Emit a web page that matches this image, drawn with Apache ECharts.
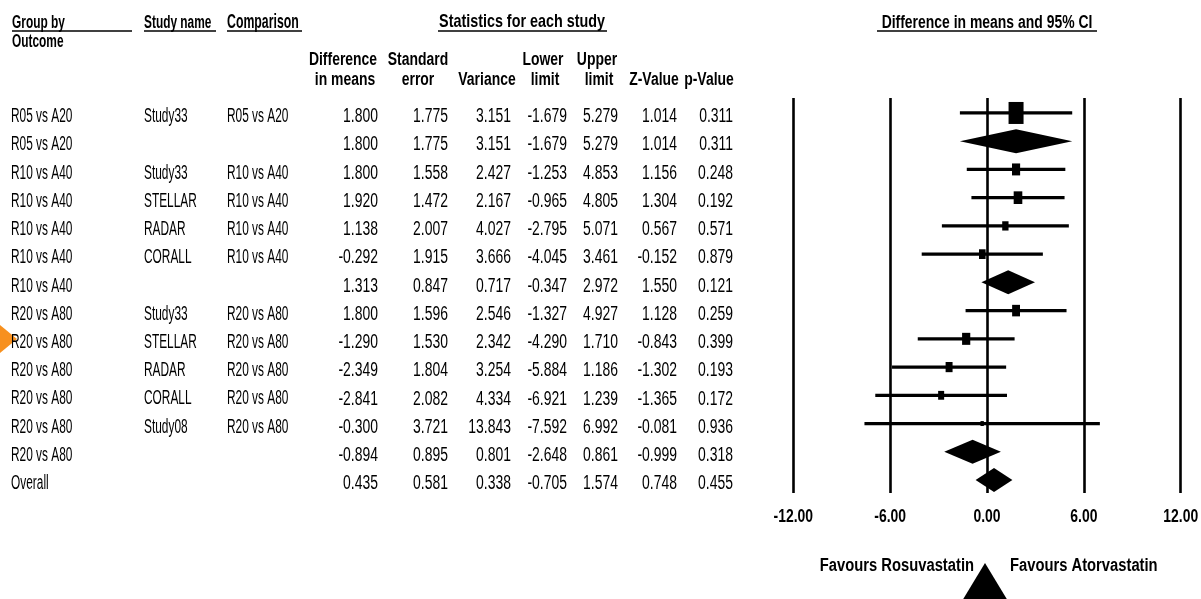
<!DOCTYPE html>
<html>
<head>
<meta charset="utf-8">
<script src="https://cdn.jsdelivr.net/npm/echarts@6/dist/echarts.min.js"></script>
<style>
html,body{margin:0;padding:0;background:#fff;}
#chart{width:1201px;height:599px;}
</style>
</head>
<body>
<div id="chart"></div>
<script>
// ---------------- DATA ----------------
const groupLabels = ['R05 vs A20','R05 vs A20','R10 vs A40','R10 vs A40','R10 vs A40','R10 vs A40','R10 vs A40','R20 vs A80','R20 vs A80','R20 vs A80','R20 vs A80','R20 vs A80','R20 vs A80','Overall'];
const studyNames = ['Study33','','Study33','STELLAR','RADAR','CORALL','','Study33','STELLAR','RADAR','CORALL','Study08','',''];
const comparisons = ['R05 vs A20','','R10 vs A40','R10 vs A40','R10 vs A40','R10 vs A40','','R20 vs A80','R20 vs A80','R20 vs A80','R20 vs A80','R20 vs A80','',''];
const diffMeans = [1.800,1.800,1.800,1.920,1.138,-0.292,1.313,1.800,-1.290,-2.349,-2.841,-0.300,-0.894,0.435];
const stdErrors = [1.775,1.775,1.558,1.472,2.007,1.915,0.847,1.596,1.530,1.804,2.082,3.721,0.895,0.581];
const variances = [3.151,3.151,2.427,2.167,4.027,3.666,0.717,2.546,2.342,3.254,4.334,13.843,0.801,0.338];
const lowerLimits = [-1.679,-1.679,-1.253,-0.965,-2.795,-4.045,-0.347,-1.327,-4.290,-5.884,-6.921,-7.592,-2.648,-0.705];
const upperLimits = [5.279,5.279,4.853,4.805,5.071,3.461,2.972,4.927,1.710,1.186,1.239,6.992,0.861,1.574];
const zValues = [1.014,1.014,1.156,1.304,0.567,-0.152,1.550,1.128,-0.843,-1.302,-1.365,-0.081,-0.999,0.748];
const pValues = [0.311,0.311,0.248,0.192,0.571,0.879,0.121,0.259,0.399,0.193,0.172,0.936,0.318,0.455];
const isSummary = [false,true,false,false,false,false,true,false,false,false,false,false,true,true];
const xTicks = [-12, -6, 0, 6, 12];
const xTickLabels = ['-12.00', '-6.00', '0.00', '6.00', '12.00'];
const plotTitle = 'Difference in means and 95% CI';
const tableTitle = 'Statistics for each study';
const leftFavour = 'Favours Rosuvastatin';
const rightFavour = 'Favours Atorvastatin';

// ---------------- STYLE ----------------
const FONT = "'Liberation Sans', Arial, sans-serif";
const SX = 0.82; // horizontal condensing
const nRows = diffMeans.length;
const Y_MIN = -0.53, Y_MAX = 13.46;

// relative weights inside each subgroup (inverse variance)
const relWeight = diffMeans.map((_, i) => {
  if (isSummary[i]) return 0;
  let tot = 0;
  for (let j = 0; j < nRows; j++) {
    if (!isSummary[j] && groupLabels[j] === groupLabels[i]) tot += 1 / variances[j];
  }
  return (1 / variances[i]) / tot;
});

function txt(text, x, y, o) {
  o = o || {};
  return {
    type: 'text', x, y,
    scaleX: o.sx || SX, scaleY: o.sy || 1,
    style: {
      text, fontFamily: FONT, fontWeight: o.bold ? 'bold' : 'normal',
      fontSize: o.size || 17, fill: '#000',
      align: o.align || 'center', verticalAlign: 'middle'
    }
  };
}
function uline(x1, x2, y) {
  return {type: 'line', shape: {x1, y1: y, x2, y2: y}, style: {stroke: '#000', lineWidth: 1.5}};
}

const chart = echarts.init(document.getElementById('chart'), null, {renderer: 'canvas'});

function renderForest(params, api) {
  const i = params.dataIndex;
  const c = api.coord([api.value(0), api.value(1)]);
  const lo = api.coord([api.value(2), api.value(1)]);
  const hi = api.coord([api.value(3), api.value(1)]);
  if (isSummary[i]) {
    const h = 12;
    return {
      type: 'polygon',
      shape: {points: [[lo[0], c[1]], [c[0], c[1] - h], [hi[0], c[1]], [c[0], c[1] + h]]},
      style: {fill: '#000'}
    };
  }
  const s = Math.sqrt(relWeight[i]);
  const w = 15 * s, h = 22 * s;
  return {
    type: 'group',
    children: [
      {type: 'line', shape: {x1: lo[0], y1: c[1], x2: hi[0], y2: c[1]}, style: {stroke: '#000', lineWidth: 3.2}},
      {type: 'rect', shape: {x: c[0] - w / 2, y: c[1] - h / 2, width: w, height: h}, style: {fill: '#000'}}
    ]
  };
}

function renderTicks(params, api) {
  const i = params.dataIndex;
  const p = api.coord([api.value(0), Y_MAX]);
  return txt(xTickLabels[i], p[0], p[1] + 24, {bold: true, size: 17, sy: 1.05});
}

// table column layout (pixel units of the hidden table axis)
const textCols = [
  {get: i => groupLabels[i], x: 11, align: 'left', num: false},
  {get: i => studyNames[i], x: 144, align: 'left', num: false},
  {get: i => comparisons[i], x: 227, align: 'left', num: false},
  {get: i => diffMeans[i].toFixed(3), x: 378, align: 'right', num: true},
  {get: i => stdErrors[i].toFixed(3), x: 448, align: 'right', num: true},
  {get: i => variances[i].toFixed(3), x: 511, align: 'right', num: true},
  {get: i => lowerLimits[i].toFixed(3), x: 567, align: 'right', num: true},
  {get: i => upperLimits[i].toFixed(3), x: 618, align: 'right', num: true},
  {get: i => zValues[i].toFixed(3), x: 677, align: 'right', num: true},
  {get: i => pValues[i].toFixed(3), x: 733, align: 'right', num: true}
];

function renderTable(params, api) {
  const i = params.dataIndex;
  const children = textCols.map(col => {
    const p = api.coord([col.x, api.value(1)]);
    return txt(col.get(i), p[0], p[1] + 3.5, {
      align: col.align,
      size: col.num ? 17 : 14.5,
      sy: col.num ? 1.22 : 1.42
    });
  });
  return {type: 'group', children};
}

function hdr(text, x, y, align, size, sy) {
  return txt(text, x, y, {bold: true, align: align || 'center', size: size || 17, sy: sy || 1.1});
}

const option = {
  animation: false,
  backgroundColor: '#fff',
  grid: [
    {left: 793.3, width: 387.4, top: 98, height: 395, outerBoundsMode: 'none', containLabel: false},
    {left: 0, width: 760, top: 98, height: 395, outerBoundsMode: 'none', containLabel: false}
  ],
  xAxis: [
    {
      type: 'value', gridIndex: 0, min: xTicks[0], max: xTicks[xTicks.length - 1], interval: xTicks[1] - xTicks[0],
      axisLine: {show: false}, axisTick: {show: false}, axisLabel: {show: false},
      splitLine: {show: true, showMinLine: true, showMaxLine: true, lineStyle: {color: '#000', width: 2.6, type: 'solid'}}
    },
    {type: 'value', gridIndex: 1, min: 0, max: 760, show: false}
  ],
  yAxis: [
    {type: 'value', gridIndex: 0, min: Y_MIN, max: Y_MAX, inverse: true, show: false},
    {type: 'value', gridIndex: 1, min: Y_MIN, max: Y_MAX, inverse: true, show: false}
  ],
  series: [
    {
      type: 'custom', xAxisIndex: 0, yAxisIndex: 0,
      renderItem: renderForest,
      data: diffMeans.map((d, i) => [d, i, lowerLimits[i], upperLimits[i]]),
      z: 5
    },
    {
      type: 'custom', xAxisIndex: 0, yAxisIndex: 0,
      renderItem: renderTicks,
      data: xTicks.map(v => [v, Y_MAX]),
      z: 5
    },
    {
      type: 'custom', xAxisIndex: 1, yAxisIndex: 1,
      renderItem: renderTable,
      data: diffMeans.map((d, i) => [0, i]),
      z: 5
    }
  ],
  graphic: [
    hdr('Group by', 12, 23, 'left', 14.5, 1.3),
    hdr('Outcome', 12, 42, 'left', 14.5, 1.3),
    uline(12, 132, 31),
    hdr('Study name', 144, 23, 'left', 14.5, 1.3),
    uline(144, 216, 31),
    hdr('Comparison', 227, 23, 'left', 15, 1.3),
    uline(227, 302, 31),
    hdr(tableTitle, 522, 22, 'center', 17.5),
    uline(438, 607, 31),
    hdr('Difference', 343, 60), hdr('in means', 345, 80),
    hdr('Standard', 418, 60), hdr('error', 418, 80),
    hdr('Variance', 487, 80),
    hdr('Lower', 543, 60), hdr('limit', 545, 80),
    hdr('Upper', 597, 60), hdr('limit', 599, 80),
    hdr('Z-Value', 654, 80),
    hdr('p-Value', 709, 80),
    hdr(plotTitle, 987, 23, 'center', 17),
    uline(877, 1097, 31),
    hdr(leftFavour, 974, 566, 'right', 18, 1.0),
    hdr(rightFavour, 1010, 566, 'left', 18, 1.0),
    {type: 'polygon', shape: {points: [[985, 563], [1011, 606], [959, 606]]}, style: {fill: '#000'}},
    {type: 'polygon', shape: {points: [[0, 325], [17, 339], [0, 353]]}, style: {fill: '#F7901E'}}
  ]
};
chart.setOption(option);
</script>
</body>
</html>
